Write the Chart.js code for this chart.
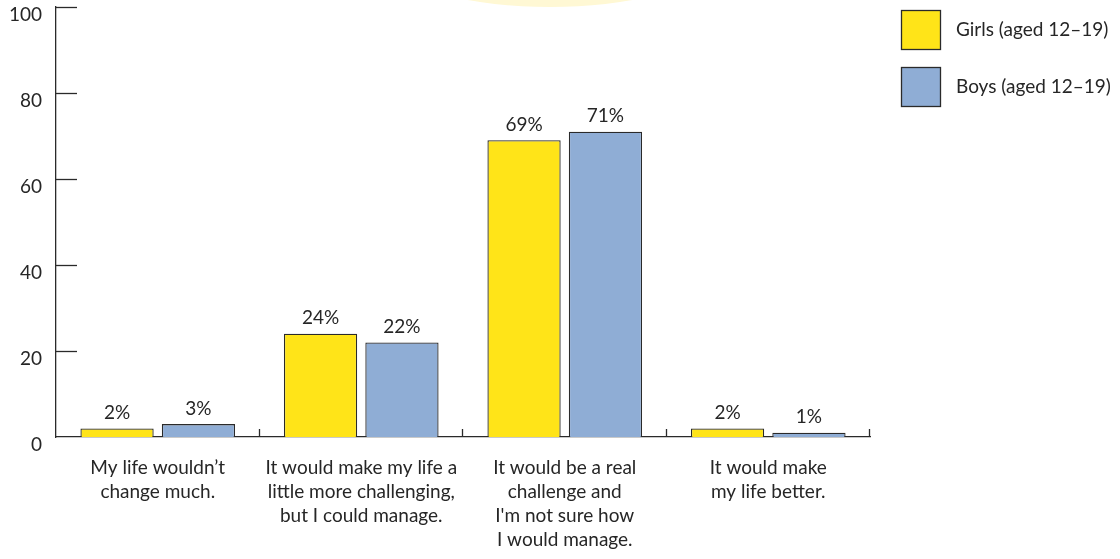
<!DOCTYPE html>
<html>
<head>
<meta charset="utf-8">
<script src="https://cdn.jsdelivr.net/npm/chart.js@4/dist/chart.umd.min.js"></script>
<style>
  html, body { margin: 0; padding: 0; background: #ffffff; }
  #wrap { position: relative; width: 1120px; height: 559px; overflow: hidden; }
  #glow {
    position: absolute; left: 405px; top: -73px; width: 290px; height: 80px;
    border-radius: 50%; background: #fff8d4;
  }
  canvas { position: absolute; left: 0; top: 0; }
</style>
</head>
<body>
<div id="wrap">
  <div id="glow"></div>
  <canvas id="chart" width="1120" height="559"></canvas>
</div>
<script>
// Answer categories (multi-line axis labels)
const categories = [
  ["My life wouldn\u2019t", "change much."],
  ["It would make my life a", "little more challenging,", "but I could manage."],
  ["It would be a real", "challenge and", "I'm not sure how", "I would manage."],
  ["It would make", "my life better."]
];
const seriesNames = ["Girls (aged 12\u201319)", "Boys (aged 12\u201319)"];
const girls = [2, 24, 69, 2];
const boys = [3, 22, 71, 1];
const yTicks = [0, 20, 40, 60, 80, 100];

const FONT = "Lato, 'Open Sans', sans-serif";
const TEXT = "#262626";
const LINE = "#2a2a2a";
const YELLOW = "#ffe418";
const BLUE = "#8fadd5";

// Short inward ticks on both axes
const axisTicks = {
  id: "axisTicks",
  afterDraw(chart) {
    const { ctx, chartArea, scales } = chart;
    ctx.save();
    ctx.strokeStyle = LINE;
    ctx.lineWidth = 1.3;
    yTicks.forEach(v => {
      if (v === 0) return;
      const y = Math.round(scales.y.getPixelForValue(v)) + 0.5;
      ctx.beginPath();
      ctx.moveTo(chartArea.left, y);
      ctx.lineTo(chartArea.left + 21, y);
      ctx.stroke();
    });
    const n = categories.length;
    const w = (chartArea.right - chartArea.left) / n;
    for (let i = 1; i <= n; i++) {
      const x = Math.round(chartArea.left + w * i) - 0.5;
      ctx.beginPath();
      ctx.moveTo(x, chartArea.bottom);
      ctx.lineTo(x, chartArea.bottom - 8);
      ctx.stroke();
    }
    ctx.restore();
  }
};

// Percentage labels above each bar
const valueLabels = {
  id: "valueLabels",
  afterDatasetsDraw(chart) {
    const { ctx } = chart;
    ctx.save();
    ctx.font = "19px " + FONT;
    ctx.fillStyle = TEXT;
    ctx.textAlign = "center";
    ctx.textBaseline = "bottom";
    chart.data.datasets.forEach((ds, di) => {
      chart.getDatasetMeta(di).data.forEach((bar, i) => {
        ctx.fillText(ds.data[i] + "%", bar.x, bar.y - 6);
      });
    });
    ctx.restore();
  }
};

// Legend boxes at the top right
const sideLegend = {
  id: "sideLegend",
  afterDraw(chart) {
    const { ctx } = chart;
    ctx.save();
    ctx.font = "19px " + FONT;
    ctx.textAlign = "left";
    ctx.textBaseline = "middle";
    chart.data.datasets.forEach((ds, i) => {
      const top = 10 + i * 57;
      ctx.fillStyle = ds.backgroundColor;
      ctx.fillRect(901, top, 39, 39);
      ctx.strokeStyle = LINE;
      ctx.lineWidth = 1.3;
      ctx.strokeRect(901.5, top + 0.5, 39, 39);
      ctx.fillStyle = TEXT;
      ctx.fillText(ds.label, 956, top + 20);
    });
    ctx.restore();
  }
};

new Chart(document.getElementById("chart"), {
  type: "bar",
  data: {
    labels: categories,
    datasets: [
      { label: seriesNames[0], data: girls, backgroundColor: YELLOW, borderColor: LINE, borderWidth: 1.3 },
      { label: seriesNames[1], data: boys, backgroundColor: BLUE, borderColor: LINE, borderWidth: 1.3 }
    ]
  },
  options: {
    responsive: false,
    animation: false,
    devicePixelRatio: 1,
    categoryPercentage: 0.8,
    barPercentage: 0.9,
    layout: { padding: { left: 0, right: 250, top: 7, bottom: 0 } },
    plugins: { legend: { display: false }, tooltip: { enabled: false } },
    scales: {
      x: {
        grid: { display: false, drawTicks: false },
        border: { display: true, color: LINE, width: 1.3 },
        ticks: { color: TEXT, font: { family: FONT, size: 19, lineHeight: 1.26 }, padding: 19, maxRotation: 0, autoSkip: false },
        afterFit(scale) { scale.height = 122; scale.paddingLeft = 0; scale.paddingRight = 0; }
      },
      y: {
        min: 0, max: 100,
        afterBuildTicks(scale) { scale.ticks = yTicks.map(v => ({ value: v })); },
        grid: { display: false, drawTicks: false },
        border: { display: true, color: LINE, width: 1.3 },
        ticks: { color: TEXT, font: { family: FONT, size: 19 }, padding: 14, labelOffset: 8 },
        afterFit(scale) { scale.width = 56; scale.paddingTop = 0; scale.paddingBottom = 0; }
      }
    }
  },
  plugins: [axisTicks, valueLabels, sideLegend]
});
</script>
</body>
</html>
